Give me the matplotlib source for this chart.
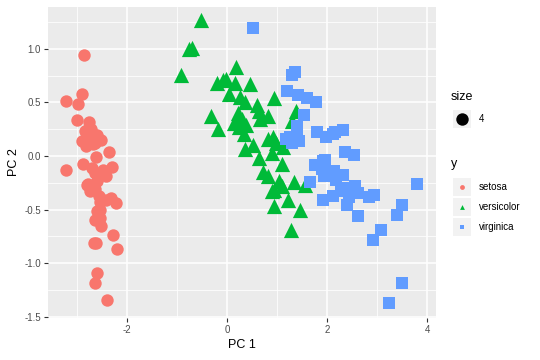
import matplotlib
matplotlib.use('Agg')
import matplotlib.pyplot as plt
from matplotlib.patches import Rectangle

# --- data: PC scores ---
setosa_pc1 = [-2.68, -2.71, -2.89, -2.75, -2.73, -2.28, -2.82, -2.63, -2.89, -2.67,
              -2.51, -2.61, -2.79, -3.22, -2.64, -2.39, -2.62, -2.65, -2.20, -2.59,
              -2.31, -2.54, -3.22, -2.30, -2.36, -2.51, -2.47, -2.56, -2.64, -2.63,
              -2.59, -2.41, -2.65, -2.60, -2.64, -2.87, -2.63, -2.80, -2.98, -2.59,
              -2.77, -2.85, -3.00, -2.41, -2.21, -2.71, -2.54, -2.84, -2.54, -2.70]
setosa_pc2 = [-0.32, 0.18, 0.14, 0.32, -0.33, -0.74, 0.09, -0.16, 0.58, 0.11,
              -0.65, -0.01, 0.24, 0.51, -1.18, -1.34, -0.81, -0.31, -0.87, -0.51,
              -0.39, -0.43, -0.13, -0.10, 0.04, 0.15, -0.13, -0.37, -0.31, 0.20,
              0.20, -0.41, -0.81, -1.09, 0.12, -0.07, -0.60, -0.27, 0.49, -0.23,
              -0.26, 0.94, 0.34, -0.19, -0.44, 0.25, -0.50, 0.23, -0.58, -0.11]

versi_pc1 = [1.28, 0.93, 1.46, 0.18, 1.09, 0.64, 1.10, -0.75, 1.04, -0.01,
             -0.51, 0.51, 0.26, 0.98, -0.17, 0.93, 0.66, 0.24, 0.94, 0.05,
             1.12, 0.36, 1.30, 0.92, 0.71, 0.90, 1.33, 1.56, 0.81, -0.31,
             -0.07, -0.19, 0.14, 1.38, 0.59, 0.81, 1.22, 0.82, 0.25, 0.17,
             0.46, 0.89, 0.23, -0.70, 0.36, 0.33, 0.38, 0.64, -0.91, 0.30]
versi_pc2 = [-0.69, -0.32, -0.50, 0.83, -0.07, 0.42, -0.28, 1.00, -0.23, 0.72,
             1.27, 0.10, 0.55, 0.12, 0.25, -0.47, 0.35, 0.33, 0.54, 0.58,
             0.08, 0.07, 0.33, 0.18, -0.15, -0.33, -0.24, -0.27, 0.16, 0.37,
             0.71, 0.68, 0.31, 0.42, 0.48, -0.19, -0.41, 0.37, 0.27, 0.68,
             0.67, 0.03, 0.40, 1.01, 0.50, 0.21, 0.29, -0.02, 0.76, 0.35]

virg_pc1 = [2.53, 1.42, 2.62, 1.97, 2.35, 3.40, 0.52, 2.93, 2.32, 2.92,
            1.66, 1.80, 2.17, 1.35, 1.59, 1.90, 1.95, 3.49, 3.80, 1.30,
            2.43, 1.20, 3.50, 1.39, 2.28, 2.61, 1.26, 1.29, 2.12, 2.39,
            2.84, 3.23, 2.16, 1.44, 1.78, 3.08, 2.14, 1.91, 1.17, 2.11,
            2.31, 1.92, 1.42, 2.56, 2.42, 1.94, 1.53, 1.76, 1.90, 1.39]
virg_pc2 = [0.01, 0.57, -0.34, 0.18, 0.04, -0.55, 1.19, -0.36, 0.24, -0.78,
            -0.24, 0.22, -0.22, 0.78, 0.54, -0.12, -0.04, -1.18, -0.26, 0.76,
            -0.38, 0.61, -0.46, 0.20, -0.33, -0.56, 0.18, 0.12, 0.21, -0.46,
            -0.38, -1.37, 0.22, 0.14, 0.50, -0.69, -0.14, -0.05, 0.16, -0.37,
            -0.18, -0.41, 0.57, -0.28, -0.30, -0.19, 0.38, -0.08, -0.12, 0.28]

species = ['setosa', 'versicolor', 'virginica']
colors = ['#F8766D', '#00BA38', '#619CFF']
markers = ['o', '^', 's']
sizes = [80, 120, 82]
xticks = [-2, 0, 2, 4]
yticks = [-1.5, -1.0, -0.5, 0.0, 0.5, 1.0]

plt.rcParams['font.family'] = ['Liberation Sans', 'DejaVu Sans']

fig = plt.figure(figsize=(5.4, 3.6), dpi=100)
ax = fig.add_axes([48 / 540, 1 - 318 / 360, 388 / 540, 311 / 360])
ax.set_facecolor('#EBEBEB')
for s in ax.spines.values():
    s.set_visible(False)

series = [(setosa_pc1, setosa_pc2), (versi_pc1, versi_pc2), (virg_pc1, virg_pc2)]
for (px, py), c, m, sz in zip(series, colors, markers, sizes):
    ax.scatter(px, py, s=sz, c=c, marker=m, linewidths=0, zorder=3)

ax.set_xlim(-3.57, 4.17)
ax.set_ylim(-1.51, 1.39)
ax.set_xticks(xticks)
ax.set_xticklabels([str(v) for v in xticks])
ax.set_yticks(yticks)
ax.set_yticklabels(['%.1f' % v for v in yticks])
ax.set_xticks([-3, -1, 1, 3], minor=True)
ax.set_yticks([-1.25, -0.75, -0.25, 0.25, 0.75, 1.25], minor=True)
ax.grid(True, which='major', color='white', linewidth=1.1, zorder=0)
ax.grid(True, which='minor', color='white', linewidth=0.55, zorder=0)
ax.set_axisbelow(True)
ax.tick_params(which='major', length=3, width=0.8, color='#333333',
               labelsize=7, labelcolor='#4D4D4D', pad=2)
ax.tick_params(which='minor', length=0)
ax.set_xlabel('PC 1', fontsize=9, labelpad=3)
ax.set_ylabel('PC 2', fontsize=9, labelpad=3)

# --- legends drawn in pixel space ---
lg = fig.add_axes([0, 0, 1, 1], zorder=5)
lg.set_xlim(0, 540)
lg.set_ylim(360, 0)
lg.axis('off')

lg.text(451, 97, 'size', fontsize=9, va='center', ha='left')
lg.add_patch(Rectangle((453, 110), 18, 18, facecolor='#F2F2F2', edgecolor='none'))
lg.scatter([462], [119], s=80, c='black', marker='o', linewidths=0)
lg.text(479, 119, '4', fontsize=7, va='center', ha='left')

lg.text(451, 164, 'y', fontsize=9, va='center', ha='left')
for i, (name, c, m) in enumerate(zip(species, colors, markers)):
    yy = 187 + 20 * i
    lg.add_patch(Rectangle((453, yy - 9), 18, 18, facecolor='#F2F2F2', edgecolor='none'))
    lg.scatter([462], [yy], s=12, c=c, marker=m, linewidths=0)
    lg.text(479, yy, name, fontsize=7, va='center', ha='left')

fig.savefig('out.png', dpi=100)
